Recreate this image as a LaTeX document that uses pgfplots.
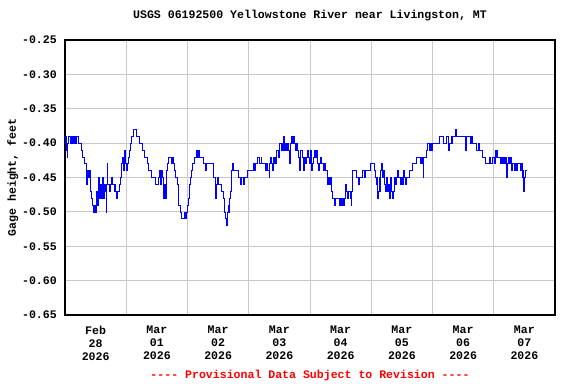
\documentclass[border=0pt]{standalone}
\usepackage{fontspec}
\setmainfont{Liberation Mono}
\usepackage{pgfplots}
\pgfplotsset{compat=1.18}
\definecolor{gridgray}{RGB}{200,200,200}
\definecolor{lineblue}{RGB}{0,0,255}
\definecolor{provred}{RGB}{255,0,0}
\newcommand{\chartfont}{\fontsize{11.6}{12.8}\selectfont\bfseries}
\begin{document}
\begin{tikzpicture}
\path[use as bounding box] (-65bp,-69bp) rectangle (511bp,315bp);
\begin{axis}[
  at={(0,0)}, anchor=south west,
  scale only axis, width=490bp, height=275bp,
  xmin=0, xmax=8, ymin=-0.65, ymax=-0.25,
  axis line style={black, line width=1.3bp},
  xtick={0.5,1.5,2.5,3.5,4.5,5.5,6.5,7.5},
  xticklabels={Feb\\28\\2026, Mar\\01\\2026, Mar\\02\\2026, Mar\\03\\2026, Mar\\04\\2026, Mar\\05\\2026, Mar\\06\\2026, Mar\\07\\2026},
  minor xtick={1,2,3,4,5,6,7},
  ytick={-0.65,-0.60,-0.55,-0.50,-0.45,-0.40,-0.35,-0.30,-0.25},
  xmajorgrids=false, xminorgrids=true, ymajorgrids=true,
  grid style={gridgray, line width=1bp},
  minor grid style={gridgray, line width=1bp},
  major tick length=0pt, minor tick length=0pt,
  tick style={draw=none},
  /pgf/number format/assume math mode=true,
  yticklabel={\pgfmathprintnumber[fixed, fixed zerofill, precision=2]{\tick}},
  yticklabel style={font=\chartfont, anchor=east, inner sep=0pt, xshift=-8bp},
  xticklabel style={font=\chartfont, align=center, anchor=north, inner sep=0pt, yshift=-11bp},
  title={USGS 06192500 Yellowstone River near Livingston, MT},
  title style={font=\chartfont, at={(axis description cs:0.5,1)}, anchor=base, yshift=16bp},
  ylabel={Gage height, feet},
  ylabel style={font=\chartfont, at={([xshift=-49bp]axis description cs:0,0.5)}, anchor=base, rotate=0},
  clip mode=individual,
]
\addplot[const plot, lineblue, line width=0.75bp] coordinates {
(0.000,-0.39) (0.012,-0.40) (0.020,-0.39) (0.030,-0.41) (0.040,-0.42) (0.046,-0.40)
(0.055,-0.39) (0.080,-0.40) (0.090,-0.39) (0.100,-0.40) (0.110,-0.39) (0.125,-0.40)
(0.135,-0.39) (0.150,-0.40) (0.160,-0.39) (0.175,-0.40) (0.185,-0.39) (0.224,-0.40)
(0.262,-0.41) (0.289,-0.42) (0.316,-0.43) (0.343,-0.44) (0.354,-0.46) (0.360,-0.44)
(0.387,-0.45) (0.398,-0.44) (0.409,-0.46) (0.420,-0.47) (0.430,-0.48) (0.453,-0.49)
(0.460,-0.50) (0.480,-0.49) (0.490,-0.50) (0.507,-0.49) (0.518,-0.47) (0.529,-0.49)
(0.540,-0.48) (0.550,-0.45) (0.560,-0.48) (0.578,-0.46) (0.590,-0.48) (0.605,-0.46)
(0.616,-0.45) (0.630,-0.48) (0.638,-0.46) (0.654,-0.47) (0.670,-0.50) (0.680,-0.46)
(0.690,-0.43) (0.700,-0.46) (0.720,-0.47) (0.736,-0.46) (0.757,-0.45) (0.780,-0.46)
(0.800,-0.47) (0.817,-0.46) (0.830,-0.47) (0.845,-0.48) (0.860,-0.47) (0.890,-0.46)
(0.910,-0.45) (0.926,-0.43) (0.940,-0.42) (0.953,-0.44) (0.965,-0.41) (0.980,-0.42)
(0.990,-0.43) (1.003,-0.44) (1.020,-0.43) (1.035,-0.42) (1.050,-0.41) (1.068,-0.40)
(1.090,-0.39) (1.110,-0.38) (1.150,-0.38) (1.170,-0.39) (1.215,-0.40) (1.270,-0.41)
(1.300,-0.42) (1.350,-0.43) (1.367,-0.44) (1.405,-0.45) (1.476,-0.46) (1.520,-0.45)
(1.536,-0.44) (1.550,-0.45) (1.563,-0.46) (1.574,-0.44) (1.590,-0.45) (1.600,-0.46)
(1.612,-0.48) (1.623,-0.46) (1.640,-0.48) (1.650,-0.45) (1.661,-0.44) (1.678,-0.43)
(1.694,-0.42) (1.743,-0.43) (1.760,-0.42) (1.776,-0.43) (1.792,-0.44) (1.803,-0.45)
(1.830,-0.46) (1.846,-0.49) (1.885,-0.50) (1.906,-0.51) (1.955,-0.50) (1.966,-0.51)
(1.983,-0.50) (1.994,-0.49) (2.010,-0.48) (2.026,-0.47) (2.037,-0.46) (2.048,-0.45)
(2.064,-0.44) (2.080,-0.43) (2.108,-0.42) (2.146,-0.41) (2.168,-0.42) (2.184,-0.41)
(2.200,-0.42) (2.255,-0.43) (2.299,-0.44) (2.315,-0.43) (2.418,-0.45) (2.450,-0.46)
(2.462,-0.48) (2.473,-0.46) (2.490,-0.45) (2.505,-0.46) (2.554,-0.47) (2.582,-0.48)
(2.598,-0.50) (2.625,-0.51) (2.636,-0.52) (2.647,-0.50) (2.663,-0.49) (2.680,-0.50)
(2.690,-0.48) (2.707,-0.47) (2.718,-0.44) (2.729,-0.43) (2.745,-0.44) (2.827,-0.45)
(2.870,-0.46) (2.887,-0.45) (2.908,-0.46) (2.925,-0.45) (2.980,-0.44) (3.072,-0.43)
(3.094,-0.44) (3.110,-0.43) (3.148,-0.42) (3.180,-0.43) (3.198,-0.42) (3.214,-0.43)
(3.274,-0.44) (3.290,-0.43) (3.307,-0.44) (3.329,-0.45) (3.340,-0.43) (3.356,-0.42)
(3.372,-0.43) (3.383,-0.44) (3.400,-0.42) (3.416,-0.43) (3.432,-0.42) (3.449,-0.43)
(3.459,-0.41) (3.476,-0.42) (3.492,-0.41) (3.508,-0.40) (3.525,-0.41) (3.536,-0.40)
(3.547,-0.41) (3.563,-0.39) (3.579,-0.41) (3.596,-0.40) (3.612,-0.41) (3.628,-0.40)
(3.645,-0.41) (3.661,-0.43) (3.677,-0.40) (3.694,-0.39) (3.710,-0.40) (3.726,-0.39)
(3.743,-0.40) (3.759,-0.41) (3.775,-0.40) (3.792,-0.41) (3.808,-0.42) (3.819,-0.44)
(3.835,-0.41) (3.873,-0.42) (3.890,-0.44) (3.906,-0.42) (3.922,-0.43) (3.939,-0.42)
(3.955,-0.41) (3.971,-0.42) (3.988,-0.43) (4.004,-0.41) (4.015,-0.42) (4.026,-0.44)
(4.042,-0.43) (4.058,-0.42) (4.075,-0.41) (4.091,-0.42) (4.102,-0.41) (4.118,-0.43)
(4.135,-0.44) (4.151,-0.43) (4.167,-0.42) (4.189,-0.43) (4.211,-0.44) (4.233,-0.43)
(4.255,-0.44) (4.282,-0.46) (4.298,-0.45) (4.309,-0.46) (4.325,-0.45) (4.342,-0.46)
(4.353,-0.47) (4.363,-0.48) (4.390,-0.49) (4.407,-0.48) (4.472,-0.49) (4.494,-0.48)
(4.510,-0.49) (4.527,-0.48) (4.543,-0.49) (4.560,-0.48) (4.570,-0.47) (4.581,-0.46)
(4.598,-0.47) (4.614,-0.48) (4.625,-0.47) (4.652,-0.48) (4.668,-0.49) (4.679,-0.47)
(4.690,-0.44) (4.750,-0.45) (4.788,-0.46) (4.804,-0.45) (4.859,-0.44) (4.881,-0.45)
(4.897,-0.44) (4.990,-0.43) (5.050,-0.44) (5.066,-0.45) (5.082,-0.46) (5.093,-0.45)
(5.104,-0.48) (5.115,-0.47) (5.126,-0.45) (5.137,-0.47) (5.153,-0.44) (5.164,-0.43)
(5.175,-0.44) (5.186,-0.45) (5.197,-0.44) (5.213,-0.46) (5.229,-0.47) (5.240,-0.46)
(5.251,-0.45) (5.267,-0.47) (5.284,-0.46) (5.295,-0.48) (5.306,-0.47) (5.316,-0.45)
(5.333,-0.47) (5.349,-0.48) (5.360,-0.47) (5.371,-0.45) (5.387,-0.46) (5.404,-0.45)
(5.420,-0.44) (5.436,-0.45) (5.469,-0.46) (5.485,-0.45) (5.501,-0.46) (5.518,-0.44)
(5.534,-0.45) (5.550,-0.46) (5.567,-0.45) (5.621,-0.44) (5.676,-0.43) (5.730,-0.42)
(5.796,-0.43) (5.812,-0.42) (5.828,-0.43) (5.845,-0.42) (5.850,-0.45) (5.856,-0.42)
(5.894,-0.41) (5.910,-0.40) (5.954,-0.41) (5.964,-0.40) (5.981,-0.41) (5.997,-0.40)
(6.110,-0.39) (6.177,-0.40) (6.220,-0.39) (6.253,-0.40) (6.264,-0.41) (6.275,-0.40)
(6.302,-0.39) (6.313,-0.40) (6.324,-0.39) (6.373,-0.38) (6.389,-0.39) (6.531,-0.40)
(6.542,-0.41) (6.553,-0.39) (6.623,-0.40) (6.640,-0.39) (6.656,-0.40) (6.721,-0.41)
(6.749,-0.40) (6.770,-0.41) (6.814,-0.42) (6.863,-0.43) (6.928,-0.42) (6.939,-0.43)
(6.983,-0.42) (7.015,-0.43) (7.026,-0.41) (7.037,-0.42) (7.048,-0.41) (7.064,-0.42)
(7.103,-0.43) (7.130,-0.42) (7.146,-0.43) (7.163,-0.42) (7.173,-0.43) (7.190,-0.42)
(7.206,-0.45) (7.217,-0.43) (7.233,-0.42) (7.250,-0.43) (7.266,-0.42) (7.282,-0.43)
(7.293,-0.44) (7.310,-0.43) (7.342,-0.44) (7.359,-0.43) (7.375,-0.44) (7.391,-0.43)
(7.430,-0.44) (7.446,-0.43) (7.462,-0.45) (7.473,-0.44) (7.484,-0.47) (7.495,-0.45)
(7.511,-0.44) (7.538,-0.44)
};
\node[font=\chartfont, text=provred, anchor=base, yshift=-63bp] at (rel axis cs:0.5,0) {-{}-{}-{}- Provisional Data Subject to Revision -{}-{}-{}-};
\end{axis}
\end{tikzpicture}
\end{document}
